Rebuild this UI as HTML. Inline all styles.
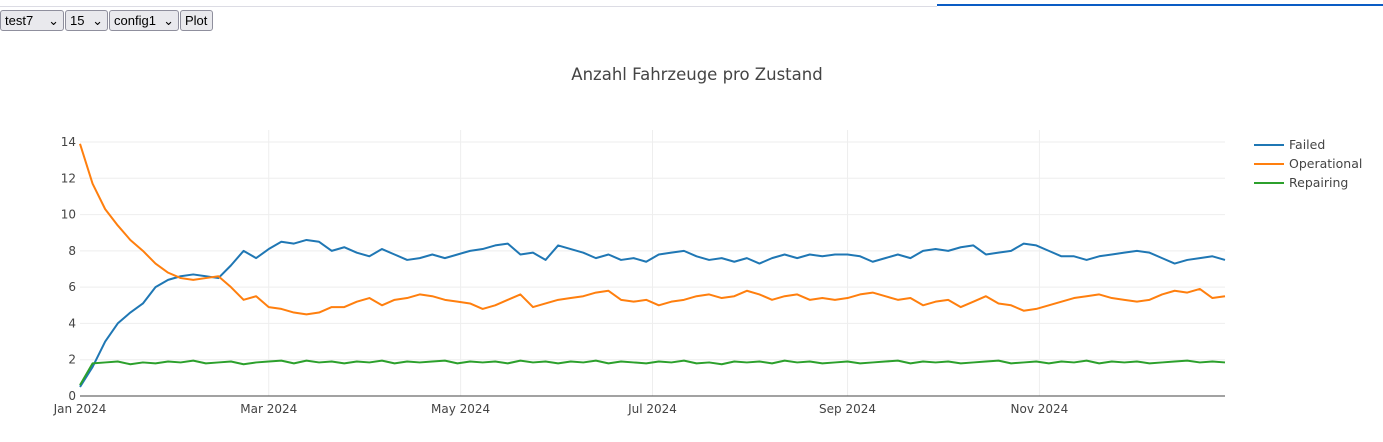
<!DOCTYPE html>
<html><head><meta charset="utf-8"><style>
body{margin:0;width:1383px;height:442px;overflow:hidden;background:#fff;font-family:"Liberation Sans",sans-serif;position:relative}
.ctl{position:absolute;top:10px;height:21px;font-size:13px;background:#e9e9ed;border:1px solid #8f8f9d;border-radius:3px;box-sizing:border-box;padding:0 4px;line-height:19px;color:#000}
svg text{font-family:"DejaVu Sans",Verdana,sans-serif}
</style></head><body>
<div style="position:absolute;left:0;top:6px;width:937px;height:1px;background:#dcdce4"></div>
<div style="position:absolute;left:937px;top:4px;width:446px;height:2px;background:#0a5cc4"></div>
<div class="ctl" style="left:0;width:64px">test7 <span style="float:right">⌄</span></div>
<div class="ctl" style="left:65px;width:43px">15 <span style="float:right">⌄</span></div>
<div class="ctl" style="left:109px;width:70px">config1 <span style="float:right">⌄</span></div>
<div class="ctl" style="left:180px;width:33px">Plot</div>
<svg id="c" width="1383" height="442" style="position:absolute;left:0;top:0"></svg>
<script>
const days=[];for(let d=0;d<=364;d+=4)days.push(d);
const failed=[0.5,1.6,3.0,4.0,4.6,5.1,6.0,6.4,6.6,6.7,6.6,6.5,7.2,8.0,7.6,8.1,8.5,8.4,8.6,8.5,8.0,
8.2,7.9,7.7,8.1,7.8,7.5,7.6,7.8,7.6,7.8,8.0,8.1,8.3,8.4,7.8,7.9,7.5,8.3,8.1,7.9,7.6,7.8,7.5,7.6,7.4,7.8,7.9,8.0,7.7,7.5,7.6,7.4,7.6,7.3,7.6,7.8,7.6,7.8,7.7,7.8,7.8,7.7,7.4,7.6,7.8,7.6,8.0,8.1,8.0,8.2,8.3,7.8,7.9,8.0,8.4,8.3,8.0,7.7,7.7,7.5,7.7,7.8,7.9,8.0,7.9,7.6,7.3,7.5,7.6,7.7,7.5];
const operational=[13.9,11.7,10.3,9.4,8.6,8.0,7.3,6.8,6.5,6.4,6.5,6.6,6.0,5.3,5.5,4.9,4.8,4.6,4.5,4.6,4.9,
4.9,5.2,5.4,5.0,5.3,5.4,5.6,5.5,5.3,5.2,5.1,4.8,5.0,5.3,5.6,4.9,5.1,5.3,5.4,5.5,5.7,5.8,5.3,5.2,5.3,5.0,5.2,5.3,5.5,5.6,5.4,5.5,5.8,5.6,5.3,5.5,5.6,5.3,5.4,5.3,5.4,5.6,5.7,5.5,5.3,5.4,5.0,5.2,5.3,4.9,5.2,5.5,5.1,5.0,4.7,4.8,5.0,5.2,5.4,5.5,5.6,5.4,5.3,5.2,5.3,5.6,5.8,5.7,5.9,5.4,5.5];
const repairing=[0.6,1.8,1.85,1.9,1.75,1.85,1.8,1.9,1.85,1.95,1.8,1.85,1.9,1.75,1.85,1.9,1.95,1.8,1.95,1.85,1.9,
1.8,1.9,1.85,1.95,1.8,1.9,1.85,1.9,1.95,1.8,1.9,1.85,1.9,1.8,1.95,1.85,1.9,1.8,1.9,1.85,1.95,1.8,1.9,1.85,1.8,1.9,1.85,1.95,1.8,1.85,1.75,1.9,1.85,1.9,1.8,1.95,1.85,1.9,1.8,1.85,1.9,1.8,1.85,1.9,1.95,1.8,1.9,1.85,1.9,1.8,1.85,1.9,1.95,1.8,1.85,1.9,1.8,1.9,1.85,1.95,1.8,1.9,1.85,1.9,1.8,1.85,1.9,1.95,1.85,1.9,1.85];
const yTicks=[0,2,4,6,8,10,12,14];
const xTickLabels=["Jan 2024","Mar 2024","May 2024","Jul 2024","Sep 2024","Nov 2024"];
const xTickDays=[0,60,121,182,244,305];
const seriesNames=["Failed","Operational","Repairing"];
const colors=["#1f77b4","#ff7f0e","#2ca02c"];
const X0=80,X1=1225,Y0=396,Y1=142;
const xs=d=>X0+(X1-X0)*d/364;
const ys=v=>Y0-(Y0-Y1)*v/14;
const svg=document.getElementById('c');const NS='http://www.w3.org/2000/svg';
function mk(t,a,p){const e=document.createElementNS(NS,t);for(const k in a)e.setAttribute(k,a[k]);(p||svg).appendChild(e);return e;}
const g=mk('g',{});


yTicks.forEach(v=>{
 if(v>0){mk('line',{x1:X0,x2:X1,y1:ys(v),y2:ys(v),stroke:'#eee','stroke-width':1},g);}
 const t=mk('text',{x:X0-4,y:ys(v)+4,'text-anchor':'end','font-size':12,fill:'#444'});t.textContent=v;
 
 
});
xTickDays.forEach((d,i)=>{
 if(d>0)mk('line',{x1:xs(d),x2:xs(d),y1:Y1-12,y2:Y0,stroke:'#eee','stroke-width':1},g);
 const t=mk('text',{x:xs(d),y:413,'text-anchor':'middle','font-size':12,fill:'#444'});t.textContent=xTickLabels[i];
 
 
});
const ax=mk('line',{x1:X0,x2:X1,y1:Y0,y2:Y0,stroke:'#444','stroke-width':1});


[failed,operational,repairing].forEach((s,i)=>{
 const p=mk('polyline',{points:s.map((v,j)=>xs(days[j])+','+ys(v)).join(' '),fill:'none',stroke:colors[i],'stroke-width':2,'stroke-linejoin':'round'});
 
 
 const lg=mk('g',{});
 
 
 mk('line',{x1:1254,x2:1284,y1:145+19*i,y2:145+19*i,stroke:colors[i],'stroke-width':2},lg);
 const t=mk('text',{x:1289,y:149+19*i,'font-size':12.5,fill:'#444'},lg);t.textContent=seriesNames[i];
});
const tt=mk('text',{x:697,y:80,'text-anchor':'middle','font-size':16.5,fill:'#444'});tt.textContent='Anzahl Fahrzeuge pro Zustand';


</script>
</body></html>
